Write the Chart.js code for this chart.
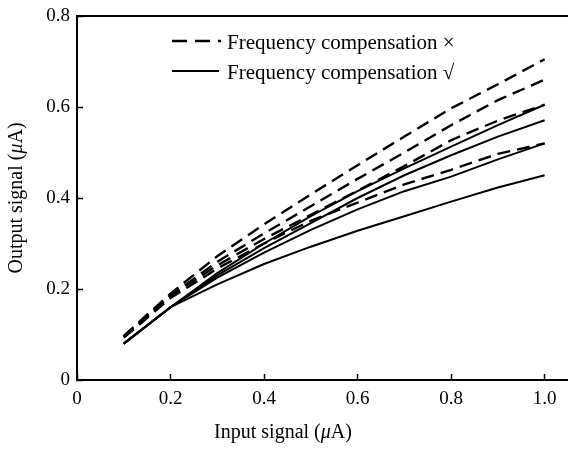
<!DOCTYPE html>
<html lang="en">
<head>
  <meta charset="UTF-8">
  <title>Output vs input signal</title>
  <script src="https://cdn.jsdelivr.net/npm/chart.js@4.4.1/dist/chart.umd.min.js"></script>
  <style>
    body { margin: 0; padding: 0; background: #fff; }
    #wrap { width: 568px; height: 449px; }
  </style>
</head>
<body>
  <div id="wrap"><canvas id="chart" width="568" height="449"></canvas></div>
  <script>
    // input signal (uA)
    const inputs = [0.1, 0.2, 0.3, 0.4, 0.5, 0.6, 0.7, 0.8, 0.9, 1.0];

    // without frequency compensation (dashed)
    const dashedA = [0.097, 0.19, 0.272, 0.342, 0.408, 0.472, 0.535, 0.597, 0.65, 0.705];
    const dashedB = [0.095, 0.185, 0.26, 0.322, 0.382, 0.442, 0.5, 0.56, 0.615, 0.66];
    const dashedC = [0.095, 0.185, 0.252, 0.31, 0.363, 0.416, 0.47, 0.527, 0.57, 0.605];
    const dashedD = [0.093, 0.18, 0.245, 0.3, 0.35, 0.39, 0.43, 0.462, 0.497, 0.52];

    // with frequency compensation (solid)
    const solidA = [0.08, 0.16, 0.235, 0.3, 0.36, 0.415, 0.465, 0.513, 0.56, 0.605];
    const solidB = [0.08, 0.16, 0.23, 0.29, 0.345, 0.4, 0.45, 0.494, 0.535, 0.571];
    const solidC = [0.08, 0.16, 0.225, 0.28, 0.33, 0.375, 0.415, 0.447, 0.485, 0.52];
    const solidD = [0.08, 0.16, 0.21, 0.255, 0.293, 0.328, 0.36, 0.392, 0.423, 0.45];

    const xTickLabels = ['0', '0.2', '0.4', '0.6', '0.8', '1.0'];
    const yTickLabels = ['0', '0.2', '0.4', '0.6', '0.8'];
    const legendLabels = ['Frequency compensation \u00d7', 'Frequency compensation \u221a'];

    const serif = '"Liberation Serif", "Times New Roman", serif';
    const dash = [13, 7];

    function toPoints(ys) {
      return ys.map((y, i) => ({ x: inputs[i], y: y }));
    }

    function series(ys, dashed) {
      return {
        data: toPoints(ys),
        borderColor: '#000',
        borderWidth: dashed ? 2.4 : 2,
        borderDash: dashed ? dash : [],
        pointRadius: 0,
        tension: 0,
        fill: false
      };
    }

    const datasets = [
      series(dashedA, true), series(dashedB, true), series(dashedC, true), series(dashedD, true),
      series(solidA, false), series(solidB, false), series(solidC, false), series(solidD, false)
    ];

    // top frame line, legend and axis titles
    const decorations = {
      id: 'decorations',
      afterDraw(chart) {
        const ctx = chart.ctx;
        const area = chart.chartArea;
        ctx.save();
        ctx.strokeStyle = '#000';
        ctx.lineWidth = 2;
        ctx.beginPath();
        ctx.moveTo(area.left, area.top);
        ctx.lineTo(area.right, area.top);
        ctx.stroke();

        // legend
        const rows = [
          { y: 41, dashed: true, label: legendLabels[0] },
          { y: 71, dashed: false, label: legendLabels[1] }
        ];
        ctx.font = '21px ' + serif;
        ctx.fillStyle = '#000';
        ctx.textBaseline = 'middle';
        ctx.textAlign = 'left';
        rows.forEach(r => {
          ctx.lineWidth = r.dashed ? 2.4 : 2;
          ctx.setLineDash(r.dashed ? [15, 8] : []);
          ctx.beginPath();
          ctx.moveTo(172, r.y);
          ctx.lineTo(r.dashed ? 221 : 219, r.y);
          ctx.stroke();
          ctx.fillText(r.label, 227, r.y + 2);
        });
        ctx.setLineDash([]);

        // axis titles with italic mu
        function mixed(parts, cx, cy) {
          let total = 0;
          parts.forEach(p => { ctx.font = p[1] + '20px ' + serif; total += ctx.measureText(p[0]).width; });
          let x = cx - total / 2;
          parts.forEach(p => {
            ctx.font = p[1] + '20px ' + serif;
            ctx.fillText(p[0], x, cy);
            x += ctx.measureText(p[0]).width;
          });
        }
        ctx.textBaseline = 'middle';
        mixed([['Input signal (', ''], ['\u03bc', 'italic '], ['A)', '']], 283, 433);
        ctx.translate(17, 198);
        ctx.rotate(-Math.PI / 2);
        mixed([['Output signal (', ''], ['\u03bc', 'italic '], ['A)', '']], 0, 0);
        ctx.restore();
      }
    };

    const ctx = document.getElementById('chart').getContext('2d');
    new Chart(ctx, {
      type: 'line',
      data: { datasets: datasets },
      options: {
        responsive: false,
        animation: false,
        layout: { padding: { top: 16, right: 0, bottom: 0, left: 0 } },
        plugins: { legend: { display: false }, tooltip: { enabled: false } },
        scales: {
          x: {
            type: 'linear',
            min: 0,
            max: 1.05,
            afterFit(scale) {
              scale.height = 69;
              scale.paddingLeft = 0;
              scale.paddingRight = 0;
            },
            border: { color: '#000', width: 2 },
            grid: { drawOnChartArea: false, tickLength: -6, tickWidth: 1.5, tickColor: '#000' },
            ticks: {
              stepSize: 0.2,
              includeBounds: false,
              padding: 14,
              maxRotation: 0,
              color: '#000',
              font: { family: serif, size: 19 },
              callback: (v) => xTickLabels[Math.round(v / 0.2)]
            }
          },
          y: {
            min: 0,
            max: 0.8,
            afterFit(scale) {
              scale.width = 77;
              scale.paddingTop = 0;
              scale.paddingBottom = 0;
            },
            border: { color: '#000', width: 2 },
            grid: { drawOnChartArea: false, tickLength: -6, tickWidth: 1.5, tickColor: '#000' },
            ticks: {
              stepSize: 0.2,
              padding: 13,
              color: '#000',
              font: { family: serif, size: 19 },
              callback: (v) => yTickLabels[Math.round(v / 0.2)]
            }
          }
        }
      },
      plugins: [decorations]
    });
  </script>
</body>
</html>
